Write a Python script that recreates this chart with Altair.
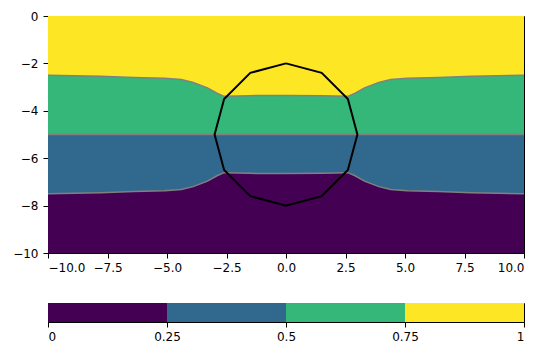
import altair as alt
import pandas as pd

# boundary curves between layers
x_pts = [-10, -7.8, -6.4, -5.1, -4.4, -3.9, -3.3, -2.9, -2.6, -1.5, 0, 1.5, 2.6, 2.9, 3.3, 3.9, 4.4, 5.1, 6.4, 7.8, 10]
top_pts = [-2.5, -2.54, -2.59, -2.63, -2.68, -2.8, -3.03, -3.26, -3.39, -3.36, -3.35, -3.36, -3.39, -3.26, -3.03, -2.8, -2.68, -2.63, -2.59, -2.54, -2.5]
bot_pts = [-7.5, -7.46, -7.41, -7.37, -7.32, -7.2, -6.97, -6.74, -6.61, -6.64, -6.65, -6.64, -6.61, -6.74, -6.97, -7.2, -7.32, -7.37, -7.41, -7.46, -7.5]
mid_level = -5

# dodecagon outline
poly_x = [0, 1.5, 2.6, 3, 2.6, 1.5, 0, -1.5, -2.6, -3, -2.6, -1.5, 0]
poly_y = [-2, -2.4, -3.5, -5, -6.5, -7.6, -8, -7.6, -6.5, -5, -3.5, -2.4, -2]

# colorbar
levels = [0, 0.25, 0.5, 0.75, 1]
colors = ["#440154", "#31688e", "#35b779", "#fde725"]

x_ticks = [-10, -7.5, -5, -2.5, 0, 2.5, 5, 7.5, 10]
y_ticks = [0, -2, -4, -6, -8, -10]

df = pd.DataFrame({"x": x_pts, "top": top_pts, "bot": bot_pts})
poly = pd.DataFrame({"x": poly_x, "y": poly_y, "i": list(range(len(poly_x)))})
cb = pd.DataFrame({"lo": levels[:-1], "hi": levels[1:], "c": colors})

xs = alt.Scale(domain=[-10, 10], nice=False, zero=False)
ys = alt.Scale(domain=[-10, 0], nice=False, zero=False)
xaxis = alt.Axis(values=x_ticks, format=".1f", title=None, grid=False, labelPadding=4)
yaxis = alt.Axis(values=y_ticks, format="d", title=None, grid=False, labelPadding=5)

X = alt.X("x:Q", scale=xs, axis=xaxis)

base = alt.Chart(df)
yellow = base.mark_area(color=colors[3]).encode(x=X, y=alt.Y(datum=0, scale=ys, axis=yaxis), y2=alt.datum(-10))
green = base.mark_area(color=colors[2]).encode(x=X, y=alt.Y("top:Q", scale=ys, axis=yaxis), y2=alt.datum(-10))
blue = base.mark_area(color=colors[1]).encode(x=X, y=alt.Y(datum=mid_level, scale=ys, axis=yaxis), y2=alt.datum(-10))
purple = base.mark_area(color=colors[0]).encode(x=X, y=alt.Y("bot:Q", scale=ys, axis=yaxis), y2=alt.datum(-10))

lw = 1.5
gcol = "#808080"
l_top = base.mark_line(color=gcol, strokeWidth=lw).encode(x=X, y=alt.Y("top:Q", scale=ys, axis=yaxis))
l_mid = base.mark_line(color=gcol, strokeWidth=lw).encode(x=X, y=alt.Y(datum=mid_level, scale=ys, axis=yaxis))
l_bot = base.mark_line(color=gcol, strokeWidth=lw).encode(x=X, y=alt.Y("bot:Q", scale=ys, axis=yaxis))

pl = alt.Chart(poly).mark_line(color="black", strokeWidth=2).encode(
    x=alt.X("x:Q", scale=xs, axis=xaxis),
    y=alt.Y("y:Q", scale=ys, axis=yaxis),
    order="i:Q",
)

main = alt.layer(yellow, green, blue, purple, l_top, l_mid, l_bot, pl).properties(width=476, height=237)

cbar = alt.Chart(cb).mark_rect().encode(
    x=alt.X("lo:Q", scale=alt.Scale(domain=[0, 1], nice=False, zero=False),
            axis=alt.Axis(values=levels, labelExpr="'' + datum.value", title=None, grid=False, labelPadding=4)),
    x2="hi:Q",
    color=alt.Color("c:N", scale=None),
).properties(width=476, height=19)

chart = alt.vconcat(main, cbar, spacing=28).properties(
    padding={"left": 12, "top": 9, "right": 5, "bottom": 5}
).configure_view(stroke="black", strokeWidth=1).configure_axis(
    domainColor="black", tickColor="black", labelColor="black",
    labelFont="DejaVu Sans", labelFontSize=12, tickSize=5, domainWidth=1, tickWidth=1,
)

chart.save("out.html", embed_options={"renderer": "svg", "actions": False})
